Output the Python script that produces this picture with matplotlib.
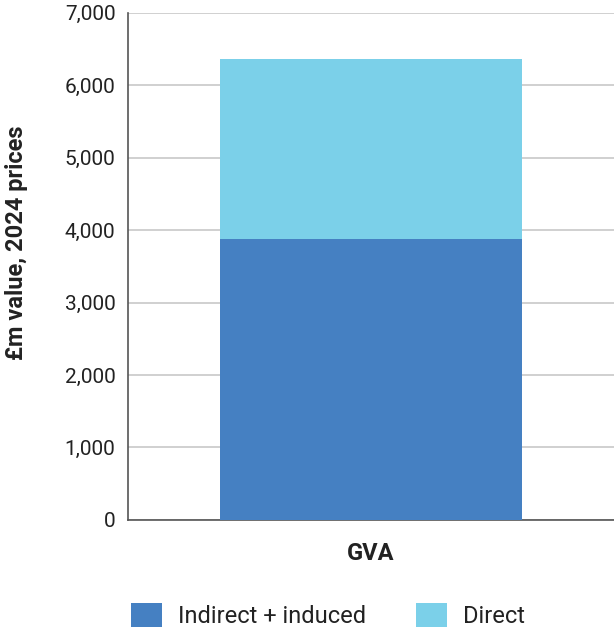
import matplotlib.pyplot as plt
from matplotlib.ticker import FuncFormatter

plt.rcParams['font.family'] = ['Roboto', 'DejaVu Sans']

categories = ['GVA']
indirect_induced = [3880]
direct = [2480]
series_names = ['Indirect + induced', 'Direct']
colors = ['#4580c2', '#7bd0e9']

fig = plt.figure(figsize=(6.14, 6.28), dpi=100)
ax = fig.add_axes([0.2085, 0.172, 0.7915, 0.808])

ax.bar(categories, indirect_induced, width=0.62, color=colors[0],
       label=series_names[0], zorder=3)
ax.bar(categories, direct, bottom=indirect_induced, width=0.62,
       color=colors[1], label=series_names[1], zorder=3)

ax.set_xlim(-0.5, 0.5)
ax.set_ylim(0, 7000)
ax.set_yticks(range(0, 7001, 1000))
ax.yaxis.set_major_formatter(FuncFormatter(lambda v, p: f'{int(v):,}'))
ax.grid(axis='y', color='#c8c8c8', linewidth=1.2, zorder=0)

for side in ['top', 'right']:
    ax.spines[side].set_visible(False)
for side in ['left', 'bottom']:
    ax.spines[side].set_color('#555555')
    ax.spines[side].set_linewidth(1.2)

ax.tick_params(axis='y', length=0, pad=9, labelsize=15, labelcolor='#222222')
ax.tick_params(axis='x', length=0, pad=16, labelsize=17, labelcolor='#222222')
for lbl in ax.get_xticklabels():
    lbl.set_fontweight('bold')

ax.set_ylabel('£m value, 2024 prices', fontsize=17, fontweight='bold',
              color='#222222')
ax.yaxis.set_label_coords(-0.206, 0.546)

fig.legend(loc='lower left', bbox_to_anchor=(0.179, -0.034), ncol=2,
           frameon=False, fontsize=17, handlelength=1.3, handleheight=1.17,
           handletextpad=0.67, columnspacing=2.13, labelcolor='#222222')

fig.savefig('out.png', dpi=100)
